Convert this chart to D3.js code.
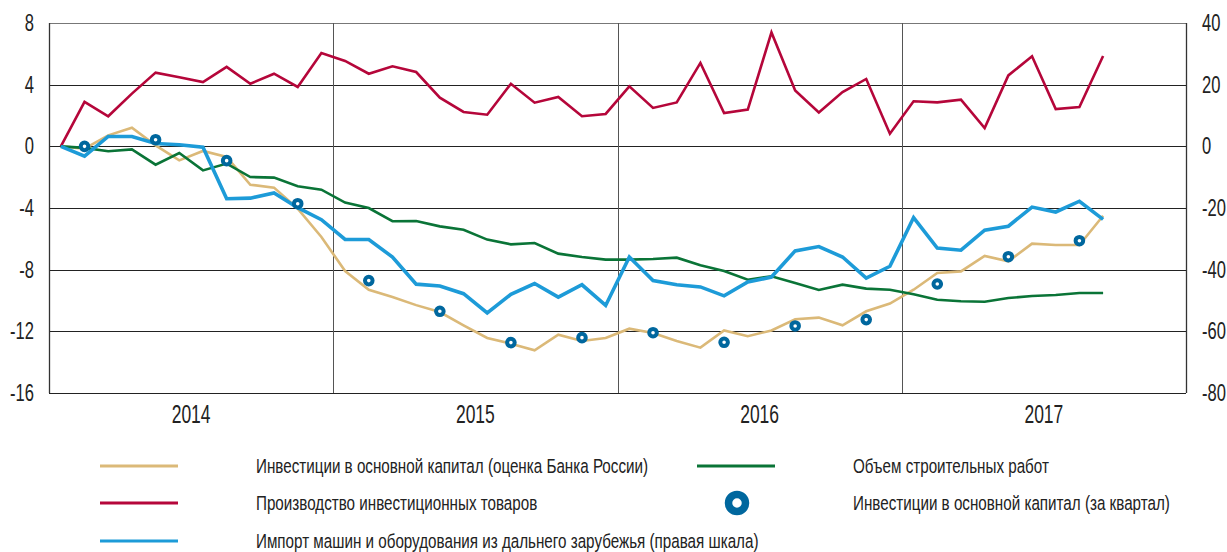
<!DOCTYPE html>
<html>
<head>
<meta charset="utf-8">
<script src="https://cdn.jsdelivr.net/npm/d3@7"></script>
<style>
  body { margin: 0; background: #fff; }
  text { font-family: "Liberation Sans", Arial, sans-serif; fill: #222; }
</style>
</head>
<body>
<div id="graphique"></div>
<script>
//----------------------------------------------------------------
// données (mois : janvier 2014 = 0 ... septembre 2017 = 44)
//----------------------------------------------------------------
var annees = ["2014", "2015", "2016", "2017"];
var ticksGauche = [8, 4, 0, -4, -8, -12, -16];
var ticksDroite = [40, 20, 0, -20, -40, -60, -80];

// Инвестиции в основной капитал (оценка Банка России)
var investOcenka = [0, -0.15, 0.71, 1.21, 0.06, -0.91, -0.3, -0.69, -2.49, -2.68, -4.04, -5.88,
  -8.09, -9.3, -9.77, -10.3, -10.75, -11.61, -12.43, -12.8, -13.23, -12.22, -12.63, -12.43,
  -11.83, -12.11, -12.63, -13.06, -11.94, -12.32, -11.94, -11.22, -11.11, -11.61, -10.7, -10.2,
  -9.3, -8.22, -8.11, -7.11, -7.46, -6.31, -6.4, -6.4, -4.5];

// Производство инвестиционных товаров
var proizvodstvo = [0, 2.88, 1.95, 3.42, 4.78, 4.48, 4.17, 5.15, 4.06, 4.71, 3.85, 6.05,
  5.54, 4.71, 5.19, 4.82, 3.16, 2.23, 2.05, 4.06, 2.83, 3.2, 1.95, 2.1,
  3.89, 2.49, 2.85, 5.41, 2.16, 2.38, 7.39, 3.63, 2.2, 3.52, 4.37, 0.82,
  2.92, 2.85, 3.03, 1.19, 4.6, 5.84, 2.42, 2.55, 5.86];

// Импорт машин и оборудования (правая шкала)
var importMashin = [0, -3.2, 3.2, 3.2, 0.9, 0.5, -0.3, -17.0, -16.8, -15.1, -19.9, -23.8,
  -30.2, -30.2, -35.9, -44.7, -45.3, -47.8, -54, -48, -44.5, -48.9, -44.9, -51.6,
  -35.9, -43.5, -44.9, -45.6, -48.5, -44, -42.4, -33.9, -32.5, -35.9, -42.7, -38.9,
  -23.1, -33, -33.7, -27.2, -25.9, -19.7, -21.3, -17.8, -23.7];

// Объем строительных работ
var stroitelstvo = [0, -0.1, -0.32, -0.2, -1.19, -0.43, -1.56, -1.12, -1.99, -2.03, -2.59, -2.81,
  -3.65, -4.0, -4.86, -4.84, -5.19, -5.41, -6.05, -6.36, -6.27, -6.96, -7.18, -7.35,
  -7.35, -7.31, -7.22, -7.72, -8.09, -8.65, -8.43, -8.86, -9.32, -8.97, -9.23, -9.3,
  -9.6, -9.95, -10.05, -10.08, -9.84, -9.71, -9.64, -9.51, -9.51];

// Инвестиции в основной капитал (за квартал) : mois central de chaque trimestre
var kvartalMois = [1, 4, 7, 10, 13, 16, 19, 22, 25, 28, 31, 34, 37, 40, 43];
var kvartalValeurs = [0, 0.43, -0.93, -3.72, -8.71, -10.7, -12.73, -12.41, -12.09, -12.71,
  -11.65, -11.24, -8.93, -7.16, -6.12];

//----------------------------------------------------------------
// svg
//----------------------------------------------------------------
var largeurSvg = 1227, hauteurSvg = 552;
var zone = {gauche: 49, droite: 1186, haut: 23, bas: 393};

var svg = d3.select("#graphique")
    .append("svg")
    .attr("width", largeurSvg)
    .attr("height", hauteurSvg);

var x = d3.scaleLinear().domain([0, 48]).range([zone.gauche, zone.droite]);
var yG = d3.scaleLinear().domain([-16, 8]).range([zone.bas, zone.haut]);
var yD = d3.scaleLinear().domain([-80, 40]).range([zone.bas, zone.haut]);

// texte étroit (compression horizontale k, police étroite de l'original)
function texte(g, px, py, t, taille, k, ancre) {
  return g.append("text")
      .attr("transform", "translate(" + px + "," + py + ") scale(" + k + ",1)")
      .attr("text-anchor", ancre || "start")
      .style("font-size", taille + "px")
      .text(t);
}

// grille horizontale
svg.append("g")
    .selectAll("line")
    .data(ticksGauche)
    .join("line")
    .attr("x1", zone.gauche).attr("x2", zone.droite)
    .attr("y1", d => Math.round(yG(d)) + 0.5).attr("y2", d => Math.round(yG(d)) + 0.5)
    .attr("stroke", d => (d === 8 ? "#777" : "#222"))
    .attr("stroke-width", 1);

// séparateurs des années + bords
svg.append("g")
    .selectAll("line")
    .data([0, 12, 24, 36, 48])
    .join("line")
    .attr("x1", d => Math.round(x(d)) + 0.5).attr("x2", d => Math.round(x(d)) + 0.5)
    .attr("y1", zone.haut).attr("y2", zone.bas)
    .attr("stroke", d => (d === 0 || d === 48 ? "#333" : "#555"))
    .attr("stroke-width", d => (d === 0 || d === 48 ? 1.3 : 1));

// axes (étiquettes seulement)
var axeG = svg.append("g");
ticksGauche.forEach(d => texte(axeG, 34, yG(d) + 8, String(d), 23, 0.72, "end"));
var axeD = svg.append("g");
ticksDroite.forEach(d => texte(axeD, 1202, yD(d) + 8, String(d), 23, 0.72, "start"));

// années
var axeX = svg.append("g");
annees.forEach((d, i) => texte(axeX, x(i * 12 + 6), 423, d, 25, 0.7, "middle"));

//----------------------------------------------------------------
// courbes
//----------------------------------------------------------------
var ligneG = d3.line().x((d, i) => x(i + 0.5)).y(d => yG(d));
var ligneD = d3.line().x((d, i) => x(i + 0.5)).y(d => yD(d));

var courbes = [
  {v: proizvodstvo, f: ligneG, c: "#b5063a", w: 2.6},
  {v: investOcenka, f: ligneG, c: "#dbb978", w: 2.6},
  {v: stroitelstvo, f: ligneG, c: "#0a7437", w: 2.6},
  {v: importMashin, f: ligneD, c: "#1d9bd8", w: 3.6}
];

courbes.forEach(function (c) {
  svg.append("path")
      .datum(c.v)
      .attr("d", c.f)
      .attr("fill", "none")
      .attr("stroke", c.c)
      .attr("stroke-width", c.w)
      .attr("stroke-linejoin", "miter");
});

// points trimestriels
svg.append("g")
    .selectAll("circle")
    .data(kvartalValeurs)
    .join("circle")
    .attr("cx", (d, i) => x(kvartalMois[i] + 0.5))
    .attr("cy", d => yG(d))
    .attr("r", 3.8)
    .attr("fill", "#fff")
    .attr("stroke", "#00679e")
    .attr("stroke-width", 4);

//----------------------------------------------------------------
// légende
//----------------------------------------------------------------
var legende = [
  {t: "Инвестиции в основной капитал (оценка Банка России)", c: "#dbb978", type: "ligne", lx: 100, tx: 256, y: 466},
  {t: "Производство инвестиционных товаров", c: "#b5063a", type: "ligne", lx: 100, tx: 256, y: 503},
  {t: "Импорт машин и оборудования из дальнего зарубежья (правая шкала)", c: "#1d9bd8", type: "ligne", lx: 100, tx: 256, y: 541},
  {t: "Объем строительных работ", c: "#0a7437", type: "ligne", lx: 697, tx: 853, y: 466},
  {t: "Инвестиции в основной капитал (за квартал)", c: "#00679e", type: "point", lx: 697, tx: 853, y: 503}
];

var leg = svg.append("g");
legende.forEach(function (l) {
  if (l.type === "ligne") {
    leg.append("line")
        .attr("x1", l.lx).attr("x2", l.lx + 78)
        .attr("y1", l.y).attr("y2", l.y)
        .attr("stroke", l.c)
        .attr("stroke-width", 3);
  } else {
    leg.append("circle")
        .attr("cx", l.lx + 40).attr("cy", l.y)
        .attr("r", 8.5)
        .attr("fill", "#fff")
        .attr("stroke", l.c)
        .attr("stroke-width", 7.5);
  }
  texte(leg, l.tx, l.y + 7, l.t, 19.5, 0.78);
});
</script>
</body>
</html>
